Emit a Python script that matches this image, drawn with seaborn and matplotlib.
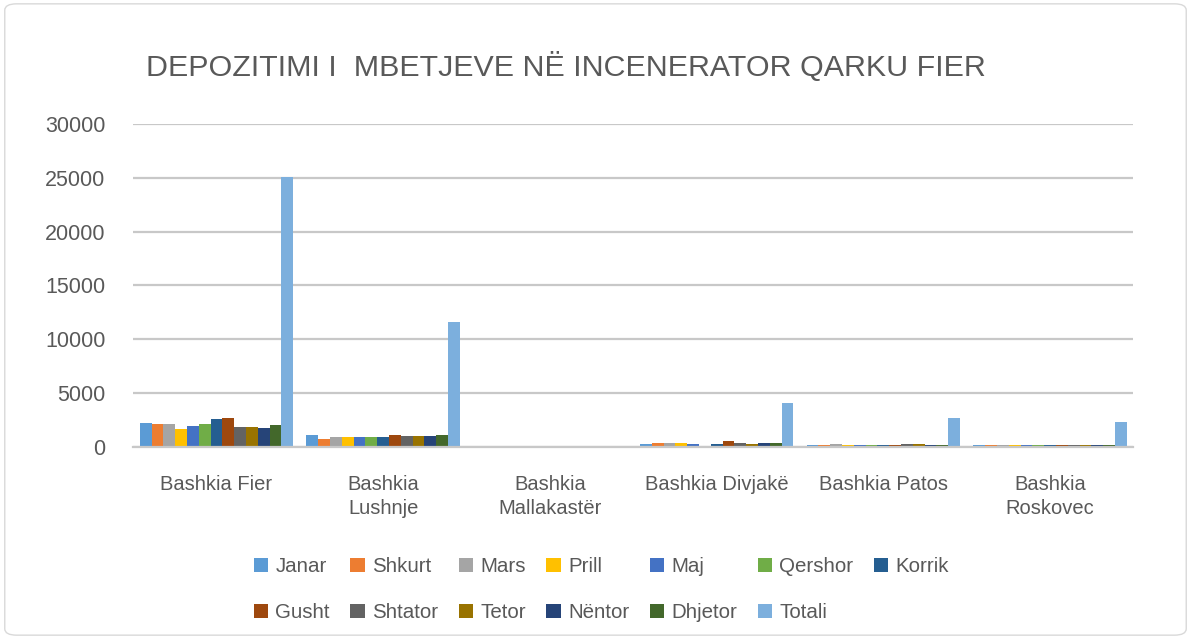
import pandas as pd
import numpy as np
import matplotlib
matplotlib.use('Agg')
import matplotlib.pyplot as plt
import seaborn as sns
from matplotlib.patches import FancyBboxPatch, Patch

bashkia = ['Bashkia Fier', 'Bashkia\nLushnje', 'Bashkia\nMallakastër', 'Bashkia Divjakë', 'Bashkia Patos', 'Bashkia\nRoskovec']
muajt = ['Janar', 'Shkurt', 'Mars', 'Prill', 'Maj', 'Qershor', 'Korrik',
         'Gusht', 'Shtator', 'Tetor', 'Nëntor', 'Dhjetor', 'Totali']

# vlerat per cdo bashki (Janar..Dhjetor, Totali)
fier = [2250, 2100, 2150, 1650, 1950, 2100, 2600, 2700, 1850, 1900, 1800, 2050, 25100]
lushnje = [1100, 700, 950, 950, 900, 950, 900, 1100, 1000, 1000, 1000, 1100, 11650]
mallakaster = [100, 100, 100, 100, 100, 100, 100, 100, 100, 100, 100, 100, 120]
divjake = [300, 330, 400, 400, 280, 80, 300, 550, 400, 300, 350, 350, 4040]
patos = [230, 210, 240, 230, 200, 190, 220, 230, 240, 250, 230, 230, 2700]
roskovec = [190, 180, 200, 190, 180, 200, 190, 200, 190, 190, 180, 210, 2300]

colors = ['#5B9BD5', '#ED7D31', '#A5A5A5', '#FFC000', '#4472C4', '#70AD47', '#255E91',
          '#9E480E', '#636363', '#997300', '#264478', '#43682B', '#7CAFDD']

rows = []
for b, vals in zip(bashkia, [fier, lushnje, mallakaster, divjake, patos, roskovec]):
    for m, v in zip(muajt, vals):
        rows.append({'bashkia': b, 'muaji': m, 'vlera': v})
df = pd.DataFrame(rows)

sns.set_style('white')
plt.rcParams['font.family'] = ['Liberation Sans', 'DejaVu Sans']

fig = plt.figure(figsize=(11.91, 6.39), dpi=100)
ax = fig.add_axes([0.1117, 0.3005, 0.840, 0.5055])

sns.barplot(data=df, x='bashkia', y='vlera', hue='muaji', hue_order=muajt,
            palette=colors, width=0.92, ax=ax, legend=False, saturation=1,
            edgecolor='none')

ax.set_ylim(0, 30000)
ax.set_xlim(-0.5, 5.5)
ax.set_yticks(range(0, 30001, 5000))
ax.yaxis.grid(True, color='#c8c8c8', linewidth=1.6)
ax.set_axisbelow(True)
for s in ['top', 'right', 'left']:
    ax.spines[s].set_visible(False)
ax.spines['bottom'].set_color('#c8c8c8')
ax.spines['bottom'].set_linewidth(1.6)
ax.tick_params(axis='y', length=0, labelsize=15.5, colors='#595959', pad=20)
ax.tick_params(axis='x', length=0, labelsize=14.5, colors='#595959', pad=20)
for t in ax.get_xticklabels():
    t.set_linespacing(1.35)
ax.set_xlabel('')
ax.set_ylabel('')

fig.text(0.123, 0.895, 'DEPOZITIMI I  MBETJEVE NË INCENERATOR QARKU FIER',
         fontsize=21.9, color='#595959', va='center', ha='left')

# legjenda mbushet sipas kolonave, ndaj i rendisim per rreshta
order = [0, 7, 1, 8, 2, 9, 3, 10, 4, 11, 5, 12, 6]
handles = [Patch(facecolor=colors[i], edgecolor='none') for i in order]
labels = [muajt[i] for i in order]
fig.legend(handles, labels, loc='center', bbox_to_anchor=(0.505, 0.077), ncol=7,
           frameon=False, fontsize=14.8, labelcolor='#595959', handlelength=0.7,
           handleheight=0.7, handletextpad=0.35, columnspacing=1.0, labelspacing=1.3)

border = FancyBboxPatch((0.004, 0.006), 0.992, 0.988, boxstyle='round,pad=0,rounding_size=0.01',
                        transform=fig.transFigure, facecolor='none', edgecolor='#d9d9d9', linewidth=1)
fig.patches.append(border)

plt.savefig('out.png', dpi=100)
plt.close()
